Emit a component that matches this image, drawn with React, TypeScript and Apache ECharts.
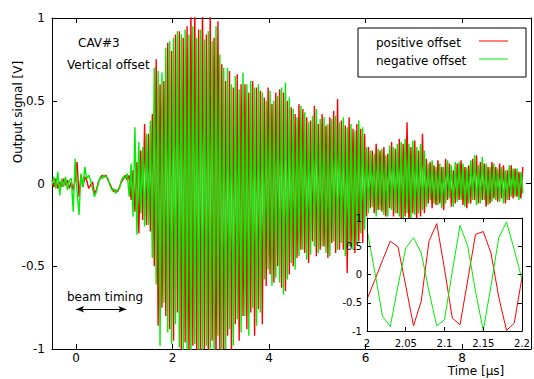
import React, { useEffect, useRef } from "react";
import * as echarts from "echarts";

// sampling of the main traces (µs)
const mainT0 = -0.5;
const mainDT = 0.04;

const redMain = [
  0.02, -0.02, 0.03, -0.03, 0.01, -0.02, 0.03, -0.01, 0.02, -0.03,
  0.01, -0.04, 0.02, 0.13, -0.08, 0.05, -0.02, 0.04, 0.02, -0.03,
  -0.01, 0.01, -0.06, -0.04, 0.01, 0.03, 0.05, 0.04, 0.05, 0.02,
  0.0, -0.03, -0.05, -0.04, -0.05, -0.02, 0.01, 0.03, 0.05, 0.02,
  0.05, -0.1, 0.08, -0.17, 0.13, -0.3, 0.2, -0.22, 0.36, -0.25,
  0.3, -0.29, 0.42, -0.5, 0.75, -0.86, 0.6, -0.75, 0.62, -0.8,
  0.85, -0.88, 0.8, -0.95, 0.9, -0.78, 0.92, -1.02, 0.88, -0.96,
  0.95, -1.05, 1.05, -0.98, 1.08, -1.1, 0.93, -1.04, 1.1, -1.0,
  0.9, -1.05, 1.05, -0.95, 0.88, -1.08, 0.98, -1.02, 0.72, -1.0,
  0.62, -0.92, 0.68, -1.02, 0.58, -0.85, 0.66, -0.95, 0.6, -0.8,
  0.6, -0.88, 0.55, -0.78, 0.62, -0.92, 0.58, -0.76, 0.56, -0.85,
  0.52, -0.62, 0.58, -0.55, 0.48, -0.6, 0.55, -0.5, 0.57, -0.63,
  0.55, -0.65, 0.5, -0.55, 0.46, -0.5, 0.42, -0.45, 0.48, -0.4,
  0.45, -0.42, 0.4, -0.48, 0.38, -0.35, 0.47, -0.44, 0.36, -0.4,
  0.42, -0.38, 0.35, -0.45, 0.4, -0.36, 0.44, -0.42, 0.51, -0.4,
  0.38, -0.4, 0.35, -0.54, 0.4, -0.38, 0.33, -0.42, 0.36, -0.35,
  0.33, -0.36, 0.3, -0.2, 0.22, -0.15, 0.2, -0.18, 0.24, -0.16,
  0.2, -0.17, 0.22, -0.2, 0.18, -0.15, 0.25, -0.2, 0.21, -0.18,
  0.27, -0.22, 0.24, -0.2, 0.37, -0.25, 0.22, -0.18, 0.26, -0.22,
  0.2, -0.2, 0.3, -0.18, 0.15, -0.12, 0.13, -0.15, 0.11, -0.13,
  0.14, -0.12, 0.1, -0.16, 0.15, -0.1, 0.12, -0.14, 0.08, -0.12,
  0.12, -0.1, 0.14, -0.13, 0.1, -0.15, 0.11, -0.12, 0.15, -0.1,
  0.17, -0.12, 0.13, -0.1, 0.12, -0.14, 0.1, -0.12, 0.13, -0.09,
  0.1, -0.11, 0.12, -0.09, 0.11, -0.12, 0.08, -0.1, 0.11, -0.09,
  0.09, -0.08, 0.07, -0.09, 0.1,
];

const greenMain = [
  -0.01, 0.04, -0.03, 0.07, -0.07, 0.03, -0.02, 0.04, -0.04, 0.02,
  0.03, -0.17, 0.15, -0.05, -0.19, 0.06, -0.02, 0.1, 0.03, 0.05,
  0.02, -0.03, -0.08, -0.05, 0.0, 0.04, 0.03, 0.05, 0.04, 0.03,
  -0.01, -0.04, -0.03, -0.06, -0.04, -0.03, 0.02, 0.04, 0.03, 0.06,
  -0.08, 0.12, -0.2, 0.34, -0.31, 0.25, -0.18, 0.22, -0.26, 0.3,
  -0.25, 0.38, -0.45, 0.7, -0.61, 0.68, -0.98, 0.67, -0.72, 0.82,
  -0.9, 0.86, -0.97, 0.88, -0.85, 0.92, -0.99, 0.9, -1.05, 0.93,
  -1.02, 0.9, -1.08, 0.95, -0.97, 0.88, -1.1, 0.93, -1.03, 0.87,
  -0.98, 0.92, -1.04, 0.86, -1.06, 0.95, -0.92, 0.78, -1.05, 0.7,
  -1.0, 0.7, -0.88, 0.6, -0.98, 0.65, -0.82, 0.57, -0.9, 0.67,
  -0.8, 0.6, -0.92, 0.62, -0.75, 0.58, -0.86, 0.6, -0.78, 0.55,
  -0.58, 0.5, -0.52, 0.56, -0.62, 0.5, -0.57, 0.53, -0.6, 0.58,
  -0.67, 0.61, -0.58, 0.52, -0.48, 0.45, -0.52, 0.4, -0.44, 0.47,
  -0.4, 0.43, -0.46, 0.37, -0.43, 0.41, -0.38, 0.45, -0.42, 0.39,
  -0.38, 0.4, -0.42, 0.36, -0.44, 0.39, -0.35, 0.41, -0.4, 0.37,
  -0.36, 0.4, -0.44, 0.34, -0.38, 0.36, -0.4, 0.32, -0.37, 0.38,
  -0.3, 0.34, -0.28, 0.22, -0.18, 0.2, -0.14, 0.18, -0.2, 0.21,
  -0.16, 0.21, -0.19, 0.17, -0.2, 0.23, -0.16, 0.22, -0.18, 0.24,
  -0.2, 0.25, -0.23, 0.27, -0.18, 0.24, -0.22, 0.26, -0.19, 0.22,
  -0.18, 0.24, -0.16, 0.2, -0.14, 0.12, -0.1, 0.14, -0.12, 0.1,
  -0.13, 0.12, -0.15, 0.1, -0.12, 0.14, -0.09, 0.11, -0.14, 0.13,
  -0.11, 0.13, -0.1, 0.12, -0.14, 0.1, -0.12, 0.14, -0.1, 0.17,
  -0.13, 0.11, -0.12, 0.16, -0.1, 0.12, -0.13, 0.1, -0.11, 0.12,
  -0.1, 0.09, -0.11, 0.1, -0.12, 0.08, -0.1, 0.11, -0.08, 0.09,
  -0.08, 0.09, -0.1, 0.07, -0.06,
];

// inset (zoom 2.0 – 2.2 µs)
const insetT0 = 2.0;
const insetDT = 0.01;
const redInset = [
  -0.44, -0.1, 0.25, 0.59, 0.49, -0.2, -0.91, -0.47, 0.59, 0.9, 0.1,
  -0.77, -0.89, -0.1, 0.71, 0.76, 0.38, -0.4, -0.99, -0.86, -0.05,
];
const greenInset = [
  0.8, 0.05, -0.74, -0.92, -0.2, 0.47, 0.65, 0.38, -0.3, -0.91, -0.8,
  0.05, 0.87, 0.5, -0.3, -0.99, -0.2, 0.65, 0.93, 0.44, -0.09,
];

const seriesNames = ["positive offset", "negative offset"];
const xTicks = [0, 2, 4, 6, 8];
const beamTiming = [0, 1.04]; // µs
const beamTimingLevel = -0.76;

const RED = "#ff0000";
const GREEN = "#00ee00";
const FONT = '"DejaVu Sans", sans-serif';

function toPairs(t0: number, dt: number, vals: number[]) {
  return vals.map((v, i) => [Math.round((t0 + i * dt) * 1000) / 1000, v]);
}

export default function App() {
  const ref = useRef<HTMLDivElement>(null);

  useEffect(() => {
    if (!ref.current) return;
    const chart = echarts.init(ref.current, null, { renderer: "svg" });

    const axisLine = { show: true, onZero: false, lineStyle: { color: "#000", width: 1 } };
    const tickStyle = { color: "#000", width: 1 };

    const option: any = {
      animation: false,
      textStyle: { fontFamily: FONT },
      grid: [
        { left: 52, top: 18, width: 479, height: 331, show: false },
        { left: 367, top: 218, width: 155, height: 113, show: false },
      ],
      xAxis: [
        {
          type: "value", gridIndex: 0, position: "bottom", min: -0.5, max: 9.43,
          axisLine,
          axisTick: { show: true, inside: true, length: 5, customValues: xTicks, lineStyle: tickStyle },
          axisLabel: { customValues: xTicks, color: "#000", fontSize: 12, margin: 3, fontFamily: FONT },
          splitLine: { show: false },
        },
        {
          type: "value", gridIndex: 0, position: "top", min: -0.5, max: 9.43,
          axisLine,
          axisTick: { show: true, inside: true, length: 5, customValues: xTicks, lineStyle: tickStyle },
          axisLabel: { show: false },
          splitLine: { show: false },
        },
        {
          type: "value", gridIndex: 1, position: "bottom", min: 2, max: 2.2, interval: 0.05, z: 5,
          axisLine,
          axisTick: { show: true, inside: true, length: 4, lineStyle: tickStyle },
          axisLabel: { color: "#000", fontSize: 10, margin: 7, fontFamily: FONT,
            formatter: (v: number) => String(Math.round(v * 100) / 100) },
          splitLine: { show: false },
        },
        {
          type: "value", gridIndex: 1, position: "top", min: 2, max: 2.2, interval: 0.05, z: 5,
          axisLine,
          axisTick: { show: true, inside: true, length: 4, lineStyle: tickStyle },
          axisLabel: { show: false },
          splitLine: { show: false },
        },
      ],
      yAxis: [
        {
          type: "value", gridIndex: 0, position: "left", min: -1, max: 1, interval: 0.5,
          axisLine,
          axisTick: { show: true, inside: true, length: 5, lineStyle: tickStyle },
          axisLabel: { color: "#000", fontSize: 12, margin: 7, fontFamily: FONT },
          splitLine: { show: false },
        },
        {
          type: "value", gridIndex: 0, position: "right", min: -1, max: 1, interval: 0.5,
          axisLine,
          axisTick: { show: true, inside: true, length: 5, lineStyle: tickStyle },
          axisLabel: { show: false },
          splitLine: { show: false },
        },
        {
          type: "value", gridIndex: 1, position: "left", min: -1, max: 1, interval: 0.5, z: 5,
          axisLine,
          axisTick: { show: true, inside: true, length: 4, lineStyle: tickStyle },
          axisLabel: { color: "#000", fontSize: 10, margin: 5, fontFamily: FONT },
          splitLine: { show: false },
        },
        {
          type: "value", gridIndex: 1, position: "right", min: -1, max: 1, interval: 0.5, z: 5,
          axisLine,
          axisTick: { show: true, inside: true, length: 4, lineStyle: tickStyle },
          axisLabel: { show: false },
          splitLine: { show: false },
        },
      ],
      series: [
        {
          name: seriesNames[0], type: "line", xAxisIndex: 0, yAxisIndex: 0,
          data: toPairs(mainT0, mainDT, redMain), symbol: "none", z: 2,
          lineStyle: { color: RED, width: 1.4 }, itemStyle: { color: RED },
          markLine: {
            silent: true, symbol: ["arrow", "arrow"], symbolSize: [5, 8],
            label: { show: false },
            lineStyle: { color: "#000", width: 1, type: "solid" },
            data: [[
              { coord: [beamTiming[0], beamTimingLevel] },
              { coord: [beamTiming[1], beamTimingLevel] },
            ]],
          },
        },
        {
          name: seriesNames[1], type: "line", xAxisIndex: 0, yAxisIndex: 0,
          data: toPairs(mainT0, mainDT, greenMain), symbol: "none", z: 2,
          lineStyle: { color: GREEN, width: 1.4 }, itemStyle: { color: GREEN },
        },
        {
          name: seriesNames[0] + " (zoom)", type: "line", xAxisIndex: 2, yAxisIndex: 2,
          data: toPairs(insetT0, insetDT, redInset), symbol: "none", z: 4,
          lineStyle: { color: RED, width: 1 },
        },
        {
          name: seriesNames[1] + " (zoom)", type: "line", xAxisIndex: 2, yAxisIndex: 2,
          data: toPairs(insetT0, insetDT, greenInset), symbol: "none", z: 4,
          lineStyle: { color: GREEN, width: 1 },
        },
      ],
      graphic: [
        { type: "rect", z: 3, shape: { x: 367, y: 218, width: 155, height: 113 }, style: { fill: "#fff" } },
        { type: "rect", z: 10, shape: { x: 358, y: 28, width: 168, height: 49 }, style: { fill: "#fff", stroke: "#000", lineWidth: 1 } },
        { type: "text", z: 11, x: 376, y: 43, style: { text: seriesNames[0], fill: "#000", font: `12px ${FONT}`, textAlign: "left", textVerticalAlign: "middle" } },
        { type: "text", z: 11, x: 376, y: 61, style: { text: seriesNames[1], fill: "#000", font: `12px ${FONT}`, textAlign: "left", textVerticalAlign: "middle" } },
        { type: "line", z: 11, shape: { x1: 479, y1: 41, x2: 508, y2: 41 }, style: { stroke: RED, lineWidth: 1 } },
        { type: "line", z: 11, shape: { x1: 479, y1: 59, x2: 508, y2: 59 }, style: { stroke: GREEN, lineWidth: 1 } },
        { type: "text", z: 11, x: 78, y: 43, style: { text: "CAV#3", fill: "#000", font: `12px ${FONT}`, textAlign: "left", textVerticalAlign: "middle" } },
        { type: "text", z: 11, x: 67, y: 65, style: { text: "Vertical offset", fill: "#000", font: `12px ${FONT}`, textAlign: "left", textVerticalAlign: "middle" } },
        { type: "text", z: 11, x: 67, y: 297, style: { text: "beam timing", fill: "#000", font: `12px ${FONT}`, textAlign: "left", textVerticalAlign: "middle" } },
        { type: "text", z: 11, x: 18, y: 112, rotation: Math.PI / 2, style: { text: "Output signal [V]", fill: "#000", font: `12px ${FONT}`, textAlign: "center", textVerticalAlign: "middle" } },
        { type: "text", z: 11, x: 476, y: 371, style: { text: "Time [µs]", fill: "#000", font: `12px ${FONT}`, textAlign: "center", textVerticalAlign: "middle" } },
      ],
    };

    chart.setOption(option);
    return () => chart.dispose();
  }, []);

  return (
    <div
      ref={ref}
      style={{ position: "absolute", left: 0, top: 0, width: 534, height: 379, background: "#fff" }}
    />
  );
}
